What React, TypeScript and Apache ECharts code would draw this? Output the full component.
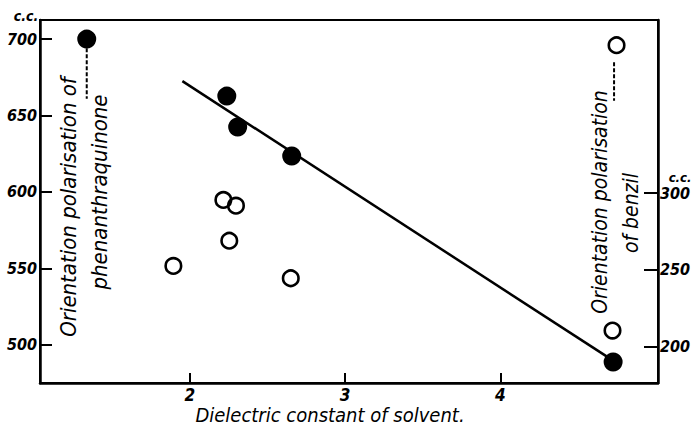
import React, { useEffect, useRef } from "react";
import * as echarts from "echarts";

// Filled circles: phenanthraquinone (left axis, c.c.)
const phenX = [1.336, 2.238, 2.308, 2.656, 4.726];
const phenY = [700, 662.7, 642.5, 623.5, 488.7];
// Open circles: benzil (right axis, c.c.)
const benzX = [1.894, 2.216, 2.297, 2.254, 2.65, 4.722, 4.748];
const benzY = [252.6, 295.5, 291.8, 269.0, 244.6, 210.6, 396.1];
// Fitted straight line (left axis)
const fitX = [1.952, 4.684];
const fitY = [672.5, 492.4];
// Leader lines from the plotted orientation polarisation points to their labels
const phenLeaderX = [1.336, 1.336];
const phenLeaderY = [694, 661];
const benzLeaderX = [4.732, 4.732];
const benzLeaderY = [385, 360];

const xTicks = [2, 3, 4];
const leftTicks = [500, 550, 600, 650, 700];
const rightTicks = [200, 250, 300];

const xTitle = "Dielectric constant of solvent.";
const phenLabel = ["Orientation polarisation of", "phenanthraquinone"];
const benzLabel = ["Orientation polarisation", "of benzil"];
const unitLabel = "c.c.";

const FONT = "'DejaVu Sans Condensed', 'Liberation Sans Narrow', 'DejaVu Sans', sans-serif";

const zip = (xs: number[], ys: number[]) => xs.map((x, i) => [x, ys[i]]);

export default function App() {
  const ref = useRef<HTMLDivElement>(null);
  useEffect(() => {
    if (!ref.current) return;
    const chart = echarts.init(ref.current, undefined, { renderer: "svg" });
    const tickLabel = {
      fontFamily: FONT,
      fontStyle: "italic" as const,
      fontWeight: "bold" as const,
      color: "#000",
      fontSize: 16,
    };
    const labelText = (text: string, x: number, y: number, size: number) => ({
      type: "text",
      x,
      y,
      rotation: Math.PI / 2,
      style: {
        text,
        fill: "#000",
        font: `italic ${size}px ${FONT}`,
        align: "center",
        verticalAlign: "middle",
      },
    });
    chart.setOption({
      animation: false,
      backgroundColor: "#fff",
      grid: {
        left: 40,
        right: 35,
        top: 20,
        bottom: 43,
        show: true,
        borderColor: "#000",
        borderWidth: 2,
        backgroundColor: "transparent",
        containLabel: false,
        outerBoundsMode: "none",
      },
      xAxis: {
        type: "value",
        min: 1.035,
        max: 5.015,
        name: xTitle,
        nameLocation: "middle",
        nameGap: 22,
        nameMoveOverlap: false,
        nameTextStyle: {
          fontFamily: FONT,
          fontStyle: "italic",
          fontSize: 20,
          color: "#000",
          padding: [0, 38, 0, 0],
        },
        axisLine: { show: true, onZero: false, lineStyle: { color: "#000", width: 2.5 } },
        axisTick: { show: true, inside: true, length: 10, customValues: xTicks, lineStyle: { color: "#000", width: 2 } },
        axisLabel: { ...tickLabel, fontSize: 17, margin: 3, customValues: xTicks },
        splitLine: { show: false },
      },
      yAxis: [
        {
          type: "value",
          min: 475,
          max: 712.5,
          position: "left",
          axisLine: { show: true, onZero: false, lineStyle: { color: "#000", width: 2.5 } },
          axisTick: { show: true, inside: true, length: 12, customValues: leftTicks, lineStyle: { color: "#000", width: 2 } },
          axisLabel: { ...tickLabel, margin: 3, customValues: leftTicks },
          splitLine: { show: false },
        },
        {
          type: "value",
          min: 176.5,
          max: 412.5,
          position: "right",
          axisLine: { show: true, onZero: false, lineStyle: { color: "#000", width: 2.5 } },
          axisTick: { show: true, inside: true, length: 14, customValues: rightTicks, lineStyle: { color: "#000", width: 2 } },
          axisLabel: { ...tickLabel, margin: 2, customValues: rightTicks },
          splitLine: { show: false },
        },
      ],
      series: [
        {
          type: "line",
          data: zip(fitX, fitY),
          yAxisIndex: 0,
          symbol: "none",
          lineStyle: { color: "#000", width: 2.5 },
          z: 1,
        },
        {
          type: "line",
          data: zip(phenLeaderX, phenLeaderY),
          yAxisIndex: 0,
          symbol: "none",
          lineStyle: { color: "#000", width: 2, type: [4, 2] },
        },
        {
          type: "line",
          data: zip(benzLeaderX, benzLeaderY),
          yAxisIndex: 1,
          symbol: "none",
          lineStyle: { color: "#000", width: 2, type: [4, 2] },
        },
        {
          type: "scatter",
          data: zip(phenX, phenY),
          yAxisIndex: 0,
          symbol: "circle",
          symbolSize: 19,
          itemStyle: { color: "#000", opacity: 1 },
          z: 3,
        },
        {
          type: "scatter",
          data: zip(benzX, benzY),
          yAxisIndex: 1,
          symbol: "circle",
          symbolSize: 15.5,
          itemStyle: { color: "rgba(255,255,255,0)", borderColor: "#000", borderWidth: 2.6, opacity: 1 },
          z: 3,
        },
      ],
      graphic: [
        labelText(phenLabel[0], 68, 207, 22),
        labelText(phenLabel[1], 99, 192, 22),
        labelText(benzLabel[0], 600, 202, 21),
        labelText(benzLabel[1], 631, 213, 21),
        {
          type: "text",
          x: 26,
          y: 16,
          style: {
            text: unitLabel,
            fill: "#000",
            font: `italic bold 14px ${FONT}`,
            align: "center",
            verticalAlign: "middle",
          },
        },
        {
          type: "text",
          x: 680,
          y: 177,
          style: {
            text: unitLabel,
            fill: "#000",
            font: `italic bold 13px ${FONT}`,
            align: "center",
            verticalAlign: "middle",
          },
        },
      ],
    });
    return () => chart.dispose();
  }, []);
  return <div ref={ref} style={{ width: 693, height: 426, position: "fixed", left: 0, top: 0 }} />;
}
